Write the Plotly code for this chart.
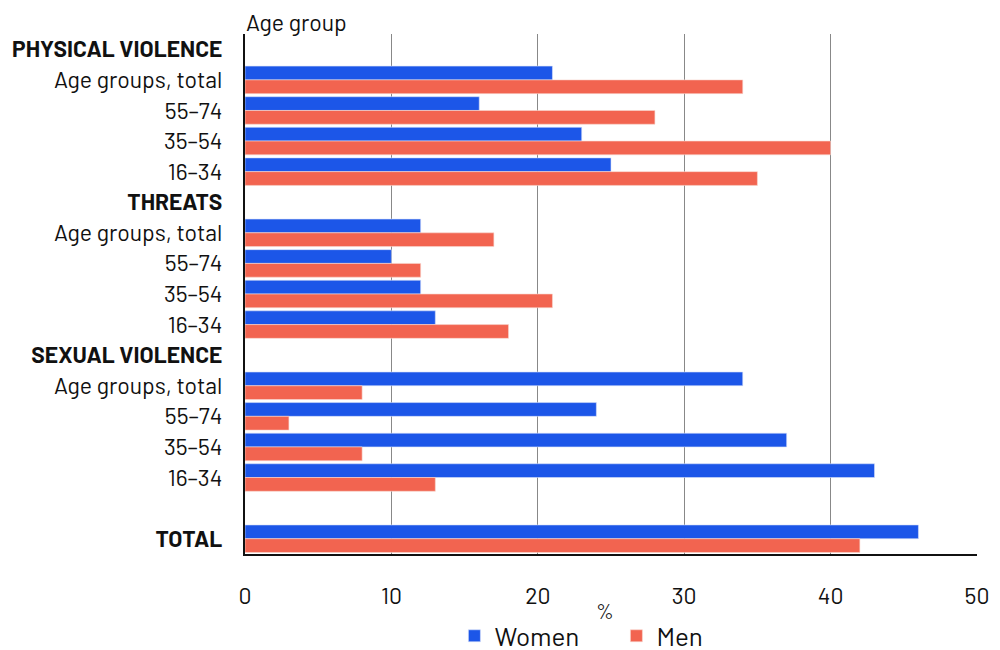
import plotly.graph_objects as go

def hdr(t):
    return "<span style='font-size:22.8px'><b>" + t + "</b></span>"

category_ids = ["pv", "pv_total", "pv_55", "pv_35", "pv_16",
                "th", "th_total", "th_55", "th_35", "th_16",
                "sv", "sv_total", "sv_55", "sv_35", "sv_16",
                "blank", "total"]
category_labels = [hdr("PHYSICAL VIOLENCE"), "Age groups, total", "55–74", "35–54", "16–34",
                   hdr("THREATS"), "Age groups, total", "55–74", "35–54", "16–34",
                   hdr("SEXUAL VIOLENCE"), "Age groups, total", "55–74", "35–54", "16–34",
                   "", hdr("TOTAL")]
women = [None, 21, 16, 23, 25, None, 12, 10, 12, 13, None, 34, 24, 37, 43, None, 46]
men = [None, 34, 28, 40, 35, None, 17, 12, 21, 18, None, 8, 3, 8, 13, None, 42]

font = "Barlow, Roboto, 'Noto Sans', sans-serif"

fig = go.Figure()
fig.add_trace(go.Bar(y=category_ids, x=women, name="Women", orientation="h",
                     marker=dict(color="#1c56e8", line=dict(color="#d8e0f8", width=0.6))))
fig.add_trace(go.Bar(y=category_ids, x=men, name="Men", orientation="h",
                     marker=dict(color="#f26450", line=dict(color="#f8d8d0", width=0.6))))

fig.update_layout(
    width=992, height=642,
    barmode="group", bargap=0.1, bargroupgap=0,
    plot_bgcolor="white", paper_bgcolor="white",
    margin=dict(l=237, r=23, t=26, b=96, autoexpand=False),
    font=dict(family=font, size=23, color="#111"),
    legend=dict(orientation="h", x=0.45, xanchor="left", xref="container",
                y=0.022, yanchor="middle", yref="container", entrywidth=117,
                font=dict(size=26), itemwidth=30, traceorder="normal"),
    xaxis=dict(range=[0, 50], dtick=10, showgrid=True, gridcolor="#888", gridwidth=1,
               showline=True, linecolor="#111", linewidth=2, zeroline=False,
               ticks="", ticklabelstandoff=20, tickfont=dict(size=23), automargin=False),
    yaxis=dict(categoryorder="array", categoryarray=category_ids, autorange="reversed",
               tickmode="array", tickvals=category_ids, ticktext=category_labels,
               showline=True, linecolor="#111", linewidth=2, ticks="",
               ticklabelstandoff=16, tickfont=dict(size=23), showgrid=False, automargin=False),
    annotations=[
        dict(text="Age group", xref="paper", yref="paper", x=0, y=1,
             xanchor="left", yanchor="bottom", showarrow=False,
             font=dict(size=23), xshift=-1, yshift=-4),
        dict(text="%", xref="paper", yref="paper", x=0.4918, y=-0.1077,
             xanchor="center", yanchor="middle", showarrow=False, font=dict(size=21)),
    ],
)

fig.write_html("out.html")
